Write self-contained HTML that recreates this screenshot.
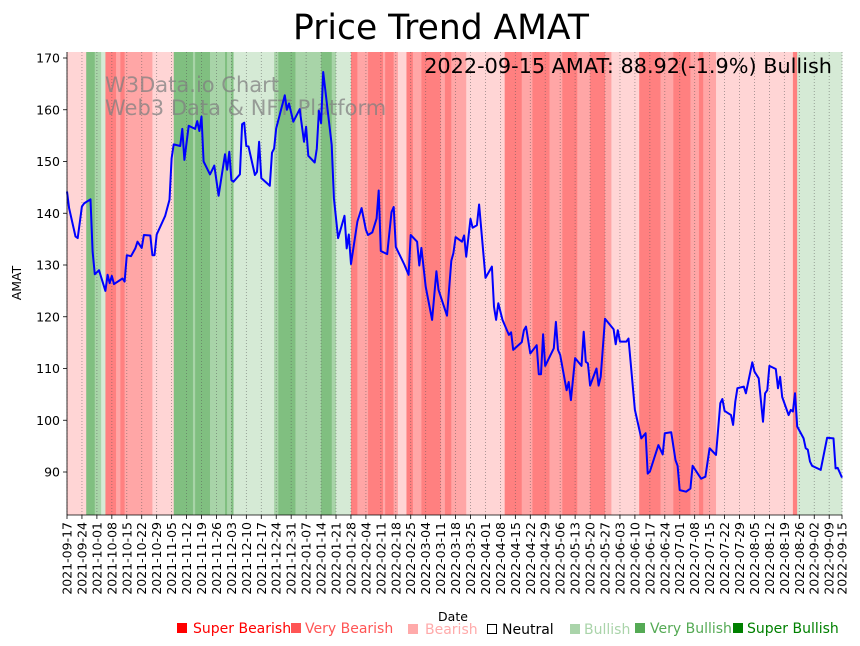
<!DOCTYPE html>
<html><head><meta charset="utf-8"><style>
html,body{margin:0;padding:0;background:#fff;}
svg{display:block;font-family:"DejaVu Sans","Liberation Sans",sans-serif;}
</style></head><body>
<svg id="chart" width="860" height="646" viewBox="0 0 860 646" xmlns="http://www.w3.org/2000/svg">
<text x="441" y="39" text-anchor="middle" font-size="34.5">Price Trend AMAT</text>
<g id="bands"></g>
<g id="grid"></g>
<g fill="#808080" fill-opacity="0.75" font-size="21">
<text x="105" y="92">W3Data.io Chart</text>
<text x="105" y="115">Web3 Data &amp; NFT Platform</text>
</g>
<path id="line" fill="none" stroke="#0000ff" stroke-width="2" stroke-linejoin="round"/>
<text x="832" y="73" text-anchor="end" font-size="20.8">2022-09-15 AMAT: 88.92(-1.9%) Bullish</text>
<g id="axes"></g>
<text transform="translate(21,283) rotate(-90)" text-anchor="middle" font-size="12.5">AMAT</text>
<text x="453" y="621" text-anchor="middle" font-size="12.5">Date</text>
<g font-size="14">
<g><rect x="177" y="623" width="10" height="10" fill="#ff0000"/><text x="193" y="633" fill="#ff0000">Super Bearish</text></g>
<g><rect x="291" y="623" width="10" height="10" fill="#ff5555"/><text x="305" y="633" fill="#ff5555">Very Bearish</text></g>
<g><rect x="408" y="624" width="10" height="10" fill="#ffaaaa"/><text x="425" y="634" fill="#ffaaaa">Bearish</text></g>
<g><rect x="487.5" y="624.5" width="9" height="9" fill="none" stroke="#000"/><text x="502" y="634" fill="#000">Neutral</text></g>
<g><rect x="570" y="624" width="10" height="10" fill="#aad4aa"/><text x="584" y="634" fill="#aad4aa">Bullish</text></g>
<g><rect x="635" y="623" width="10" height="10" fill="#55aa55"/><text x="650" y="633" fill="#55aa55">Very Bullish</text></g>
<g><rect x="733" y="623" width="10" height="10" fill="#008000"/><text x="747" y="633" fill="#008000">Super Bullish</text></g>
</g>
</svg>
<script>
// data arrays
const priceDays = [0,1,4,5,7,8,11,12,13,15,18,19,20,21,22,26,27,28,30,32,33,35,36,39,40,41,42,46,48,49,50,53,54,55,57,60,61,62,63,64,67,69,71,74,75,76,77,78,81,82,83,84,85,88,89,90,91,95,96,97,98,102,103,104,106,109,111,112,113,116,117,118,119,120,124,125,127,130,131,132,133,136,138,140,141,143,145,146,147,150,152,153,154,158,160,161,164,165,166,168,171,173,174,178,180,181,182,185,186,187,189,190,192,193,196,199,200,201,202,204,207,208,209,213,214,215,217,220,221,222,223,224,228,229,230,231,234,235,236,238,241,242,243,244,245,248,249,250,252,256,257,258,259,262,263,266,269,271,272,273,277,279,280,283,285,286,287,290,292,293,297,299,301,304,306,307,308,311,312,313,314,317,318,321,322,324,326,327,328,329,332,333,334,335,338,339,340,341,342,345,346,347,348,349,353,356,359,360,361,363];
const priceValues = [144.2,141.0,135.5,135.2,141.3,141.9,142.7,132.6,128.2,129.0,125.0,128.1,126.5,127.9,126.3,127.4,126.8,131.9,131.7,133.2,134.5,133.3,135.8,135.7,131.9,131.9,135.9,139.5,142.6,150.6,153.3,153.0,156.3,150.3,156.9,156.3,157.8,155.9,158.7,150.0,147.5,149.2,143.4,151.4,148.4,151.9,146.4,146.1,147.5,157.2,157.5,153.0,152.9,147.4,148.0,153.8,146.8,145.3,151.7,152.5,156.4,162.8,160.0,161.2,157.7,160.1,153.8,156.7,151.1,149.8,152.5,159.8,157.4,167.3,153.2,142.9,135.2,139.5,133.2,135.9,130.2,138.4,141.0,136.8,135.8,136.3,139.0,144.4,132.7,132.1,140.2,141.2,133.5,130.1,128.1,135.8,134.5,129.9,133.3,125.8,119.4,128.8,125.2,120.2,130.8,132.3,135.4,134.5,135.7,131.6,138.9,137.2,137.7,141.7,127.5,129.7,121.9,119.4,122.6,119.4,116.5,117.0,113.6,115.1,117.4,118.1,112.9,114.5,108.9,108.9,116.6,110.5,113.9,119.0,113.6,112.6,105.8,107.4,103.9,112.0,110.5,117.1,111.3,111.0,106.7,110.0,106.7,108.4,119.6,117.6,114.7,117.4,115.2,115.2,115.8,102.0,96.5,97.5,89.7,90.1,95.2,93.4,97.5,97.7,92.3,91.2,86.5,86.2,86.8,91.2,88.7,89.1,94.6,93.3,103.3,104.1,101.8,101.0,99.1,103.6,106.2,106.5,105.2,111.2,109.4,108.1,99.7,105.2,105.8,110.5,109.9,106.2,108.4,104.5,101.0,102.0,101.7,105.2,98.8,96.5,94.6,94.3,92.0,91.2,90.4,96.6,96.5,90.7,90.8,88.92];
const bandStarts = [0,9,13,16,18,23,25,27,40,50,59,60,67,74,75,77,78,97,99,107,119,124,126,133,136,141,148,149,153,155,159,162,166,175,177,180,187,205,213,218,226,232,239,245,252,255,268,278,284,292,296,298,304,340,342];
const bandLevels = [-1,3,2,1,-3,-2,-3,-2,-1,3,2,3,2,3,2,3,1,2,3,2,3,2,1,-3,-2,-3,-2,-3,-2,-1,-3,-2,-3,-2,-3,-2,-1,-3,-2,-3,-2,-3,-2,-3,-2,-1,-3,-2,-3,-2,-3,-2,-1,-3,1];
const yTicks = [90,100,110,120,130,140,150,160,170];
const totalDays = 363;

const X0=67,X1=842,Y0=52,Y1=515;
const xScale=d=>X0+(d/totalDays)*(X1-X0);
const yScale=v=>472-(v-90)*5.175;
const NS="http://www.w3.org/2000/svg";
const colors={"-3":"#ff8080","-2":"#ffa6a6","-1":"#ffd5d5","1":"#d5ead5","2":"#a8d4a8","3":"#80bf80"};
function mk(tag,attrs,parent){const e=document.createElementNS(NS,tag);for(const k in attrs)e.setAttribute(k,attrs[k]);parent.appendChild(e);return e;}

const bands=document.getElementById('bands');
for(let i=0;i<bandStarts.length;i++){
  const s=xScale(bandStarts[i]);
  const e=xScale(i+1<bandStarts.length?bandStarts[i+1]:totalDays);
  const r=mk('rect',{x:s,y:Y0,width:Math.max(0,e-s+0.3),height:Y1-Y0,fill:colors[bandLevels[i]]},bands);
  
  
}

const grid=document.getElementById('grid');
const axes=document.getElementById('axes');
const start=new Date(Date.UTC(2021,8,17));
const tickDays=[];
for(let d=0;d<totalDays;d+=7)tickDays.push(d);
tickDays.push(totalDays);
tickDays.forEach(d=>{
  const x=xScale(d);
  const g=mk('line',{x1:x,x2:x,y1:Y0,y2:Y1,stroke:"#555","stroke-width":0.8,"stroke-dasharray":"1,2","stroke-opacity":0.6},grid);
  
  
  mk('line',{x1:x,x2:x,y1:Y1,y2:Y1+4,stroke:"#000","stroke-width":0.8},axes);
  const dt=new Date(start.getTime()+d*86400000);
  const lbl=dt.toISOString().slice(0,10);
  const t=mk('text',{transform:`translate(${x+4.5},${Y1+7}) rotate(-90)`,"text-anchor":"end","font-size":12.5},axes);
  
  
  t.textContent=lbl;
});
yTicks.forEach(v=>{
  const y=yScale(v);
  mk('line',{x1:X0-4,x2:X0,y1:y,y2:y,stroke:"#000","stroke-width":0.8},axes);
  const t=mk('text',{x:X0-7,y:y+4.5,"text-anchor":"end","font-size":12.5},axes);
  
  
  t.textContent=v;
});
const ls=mk('line',{x1:X0,x2:X0,y1:Y0,y2:Y1,stroke:"#000","stroke-width":0.8},axes);


const bs=mk('line',{x1:X0,x2:X1,y1:Y1,y2:Y1,stroke:"#000","stroke-width":0.8},axes);



let dstr='';
for(let i=0;i<priceDays.length;i++){dstr+=(i?'L':'M')+xScale(priceDays[i]).toFixed(1)+','+yScale(priceValues[i]).toFixed(1);}
document.getElementById('line').setAttribute('d',dstr);
</script>
</body></html>
